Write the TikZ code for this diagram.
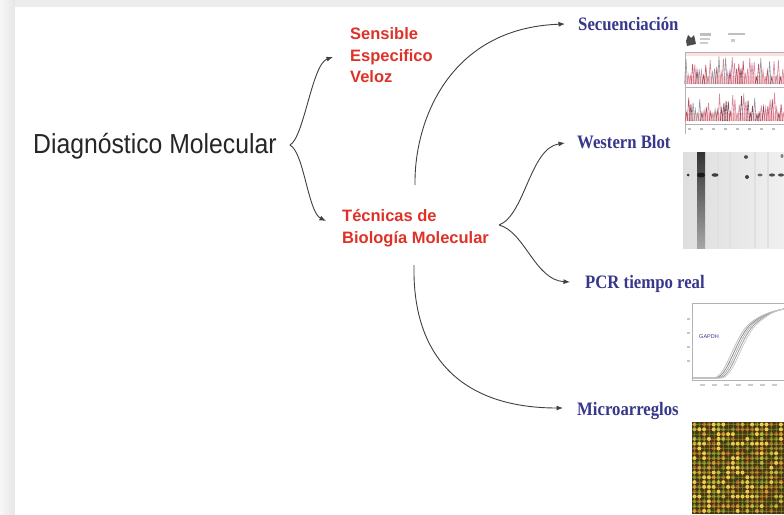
\documentclass[tikz,border=0pt]{standalone}
\usepackage{fontspec}
\setmainfont{Liberation Sans}
\newfontfamily\diagfont[FakeStretch=0.9]{Liberation Sans}
\newfontfamily\bluefont[FakeStretch=0.88]{Liberation Serif}
\usetikzlibrary{arrows.meta,calc}
\definecolor{redtxt}{RGB}{222,50,40}
\definecolor{bluetxt}{RGB}{55,55,140}
\definecolor{arrbg}{RGB}{70,52,18}
\definecolor{spA}{RGB}{235,205,75}
\definecolor{spB}{RGB}{170,180,60}
\definecolor{spC}{RGB}{110,130,35}
\definecolor{spD}{RGB}{205,140,45}
\definecolor{spE}{RGB}{90,68,22}
\definecolor{spF}{RGB}{60,80,22}
\definecolor{spG}{RGB}{150,100,35}
\definecolor{pkA}{RGB}{215,135,155}
\definecolor{pkB}{RGB}{130,70,90}
\definecolor{pkC}{RGB}{150,150,160}
\definecolor{pkD}{RGB}{190,80,100}
\pgfmathdeclarerandomlist{spotc}{{spA}{spB}{spC}{spD}{spE}{spF}{spG}{spG}{spC}{spA}}
\pgfmathdeclarerandomlist{peakc}{{pkA}{pkB}{pkC}{pkD}{pkA}}
\begin{document}
\begin{tikzpicture}[x=1pt,y=-1pt,
  conn/.style={draw=black!75, line width=0.9pt, -{Latex[length=6.5pt,width=5pt]}},
  diaglab/.style={font=\diagfont\fontsize{27.5}{30}\selectfont, text=black!85, inner sep=0pt, anchor=base west},
  redlab/.style={font=\fontsize{16.5}{20}\selectfont\bfseries, text=redtxt, inner sep=0pt, anchor=base west},
  bluelab/.style={font=\bluefont\bfseries\fontsize{19}{22}\selectfont, text=bluetxt, inner sep=0pt, anchor=base west}]
\useasboundingbox (0,0) rectangle (784,514);
% frame
\fill[black!7] (0,0) rectangle (784,514);
\shade[left color=black!3, right color=black!10] (0,0) rectangle (15,514);
\fill[white] (15,7) rectangle (784,514);

% labels
\node[diaglab] (dm) at (33,153) {Diagnóstico Molecular};
\node[redlab] (s1) at (350,39) {Sensible};
\node[redlab] (s2) at (350,61) {Especifico};
\node[redlab] (s3) at (350,82) {Veloz};
\node[redlab] (t1) at (342,221) {Técnicas de};
\node[redlab] (t2) at (342,243) {Biología Molecular};
\node[bluelab] (sec) at (578,30) {Secuenciación};
\node[bluelab] (wb) at (577,148) {Western Blot};
\node[bluelab] (pcr) at (585,288) {PCR tiempo real};
\node[bluelab] (mic) at (577,415) {Microarreglos};

% connectors
\coordinate (b1) at ($(dm.base east)+(13,-8)$);
\coordinate (b2) at ($(t2.base east)+(10,-18)$);
\coordinate (a1) at ($(t1.base west)+(73,-36)$);
\coordinate (a2) at ($(t2.base west)+(72,22)$);
\draw[conn] (b1) .. controls (304,138) and (312,64) .. ([xshift=-17pt,yshift=4pt]s2.base west);
\draw[conn] (b1) .. controls (304,152) and (308,212) .. ([xshift=-16pt]t1.base west);
\draw[conn] (b2) .. controls (525,215) and (530,148) .. ([xshift=-12pt,yshift=5pt]wb.base west);
\draw[conn] (b2) .. controls (525,232) and (535,280) .. ([xshift=-15pt,yshift=6pt]pcr.base west);
\draw[conn] (a1) .. controls (414,120) and (450,28) .. ([xshift=-13pt,yshift=6pt]sec.base west);
\draw[conn] (a2) .. controls (412,360) and (465,408) .. ([xshift=-14pt,yshift=7pt]mic.base west);

% sequencing image
\begin{scope}
\clip (683,30) rectangle (784,136);
\fill[black!70] (686,41) -- (688,35) -- (691,38) -- (694,35) -- (696,44) -- (687,46) -- cycle;
\fill[black!25] (700,33) rectangle (711,35.5);
\fill[black!20] (700,38) rectangle (710,40);
\fill[black!20] (700,42) rectangle (708,44);
\fill[black!25] (728,33) rectangle (745,35);
\fill[black!20] (731,39) rectangle (735,42);
\fill[red!12] (686,52) rectangle (784,56);
\fill[red!18] (686,76) rectangle (784,84);
\fill[red!18] (686,113) rectangle (784,121);
\draw[black!30, line width=0.5pt] (685,52) -- (784,52) (685,52) -- (685,134) (685,87) -- (784,87) (685,124) -- (784,124);
\pgfmathsetseed{7}
\foreach \i in {0,...,45}{
  \pgfmathsetmacro\h{6+22*rnd}
  \pgfmathsetmacro\xx{686+2.2*\i}
  \pgfmathrandomitem{\c}{peakc}
  \draw[\c, line width=0.6pt] (\xx-1.4,84) -- (\xx,84-\h) -- (\xx+1.4,84);
}
\foreach \i in {0,...,45}{
  \pgfmathsetmacro\h{6+24*rnd}
  \pgfmathsetmacro\xx{686.5+2.2*\i}
  \pgfmathrandomitem{\c}{peakc}
  \draw[\c, line width=0.6pt] (\xx-1.4,121) -- (\xx,121-\h) -- (\xx+1.4,121);
}
\foreach \xx in {688,700,712,...,784} \fill[black!25] (\xx,128) rectangle (\xx+3,130);
\end{scope}

% western blot image
\begin{scope}
\clip (683,152) rectangle (784,248);
\shade[left color=black!13, right color=black!6] (683,152) rectangle (784,248);
\foreach \xx in {690,718,730,755,768} \draw[black!12, line width=2pt] (\xx,152) -- (\xx,248);
\shade[top color=black!80, bottom color=black!35] (697,152) rectangle (705,248);
\fill[black!80] (688,175) ellipse (1.5pt and 1.5pt);
\fill[black!90] (701,175) ellipse (4pt and 2.5pt);
\fill[black!75] (715,175) ellipse (3.5pt and 1.8pt);
\fill[black!70] (746,157) ellipse (2pt and 1.8pt);
\fill[black!75] (747,177) ellipse (2pt and 2pt);
\fill[black!60] (760,175) ellipse (2.5pt and 1.4pt);
\fill[black!70] (772,175) ellipse (3pt and 1.6pt);
\fill[black!70] (781,175) ellipse (3pt and 1.6pt);
\fill[black!50] (782,156) ellipse (1.5pt and 2pt);
\end{scope}

% real-time PCR image
\begin{scope}
\clip (686,300) rectangle (784,390);
\draw[black!30, fill=white, line width=0.5pt] (692,303) rectangle (790,380);
\foreach \yy in {318,332,346,360} \fill[black!22] (687,\yy) rectangle (690,\yy+2);
\foreach \d/\c in {0/black!45, 2/black!30, 4/black!38, -2/black!25, 6/black!20}
  \draw[\c, line width=0.8pt] (693,378) -- (715+\d,378) .. controls (728+\d,378) and (735+\d,340) .. (750+\d,325) .. controls (762+\d,314) and (775,310) .. (790,308);
\node[font=\fontsize{5.5}{6}\selectfont, text=bluetxt, inner sep=0pt] (gapdh) at (709,337) {GAPDH};
\foreach \xx in {700,712,...,784} \fill[black!20] (\xx,384) rectangle (\xx+5,386);
\end{scope}

% microarray image
\begin{scope}
\clip (692,422) rectangle (784,514);
\fill[arrbg] (692,422) rectangle (784,514);
\pgfmathsetseed{3}
\foreach \i in {0,...,18}{
  \foreach \j in {0,...,18}{
    \pgfmathrandomitem{\c}{spotc}
    \fill[\c] (694.5+4.8*\i, 424.5+4.8*\j) circle (2pt);
  }
}
\foreach \i in {0,...,18} \draw[spA, opacity=0.25, line width=0.3pt] (694.5+4.8*\i,422) -- ++(0,92);
\foreach \j in {0,...,18} \draw[spA, opacity=0.25, line width=0.3pt] (692,424.5+4.8*\j) -- ++(92,0);
\end{scope}
\end{tikzpicture}
\end{document}
